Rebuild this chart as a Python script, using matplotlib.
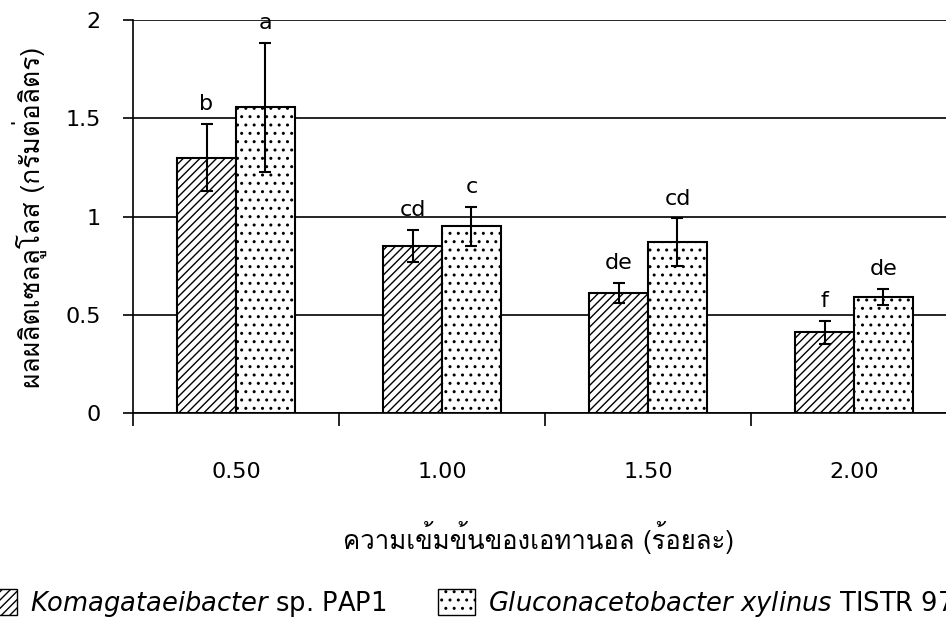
import matplotlib
matplotlib.use("Agg")
import matplotlib.pyplot as plt
from matplotlib import font_manager
from matplotlib.ft2font import FT2Font
from matplotlib.patches import Patch
import numpy as np

# Data: cellulose yield (g/L) by ethanol concentration (%)
categories = ["0.50", "1.00", "1.50", "2.00"]
strain_a_mean = [1.30, 0.85, 0.61, 0.41]
strain_a_err = [0.17, 0.08, 0.05, 0.06]
strain_b_mean = [1.555, 0.95, 0.87, 0.59]
strain_b_err = [0.33, 0.10, 0.12, 0.04]
strain_a_letters = ["b", "cd", "de", "f"]
strain_b_letters = ["a", "c", "cd", "de"]
y_ticks = [0, 0.5, 1, 1.5, 2]
y_tick_labels = ["0", "0.5", "1", "1.5", "2"]
legend_labels = [r"$\it{Komagataeibacter}$ sp. PAP1",
                 r"$\it{Gluconacetobacter\ xylinus}$ TISTR 975"]


def find_thai_font():
    seen = set()
    for f in font_manager.fontManager.ttflist:
        if f.fname in seen:
            continue
        seen.add(f.fname)
        try:
            cmap = FT2Font(f.fname).get_charmap()
        except Exception:
            continue
        if 0x0E01 in cmap and 0x0E40 in cmap:
            return f.name
    return None


thai = find_thai_font()
families = ([thai] if thai else []) + ["DejaVu Sans"]
plt.rcParams["font.family"] = ["DejaVu Sans"] + ([thai] if thai else [])
plt.rcParams["hatch.linewidth"] = 1.0
plt.rcParams["hatch.color"] = "black"

fig = plt.figure(figsize=(9.46, 6.29), dpi=100)
ax = fig.add_axes([0.1406, 0.3434, 0.8710, 0.6248])

x = np.arange(len(categories))
w = 0.286
ax.bar(x - w / 2, strain_a_mean, w, color="white", edgecolor="black",
       linewidth=1.5, hatch="////", zorder=3)
ax.bar(x + w / 2, strain_b_mean, w, color="white", edgecolor="black",
       linewidth=1.5, hatch="..", zorder=3)
ax.errorbar(x - w / 2, strain_a_mean, yerr=strain_a_err, fmt="none",
            ecolor="black", elinewidth=1.5, capsize=4.5, capthick=1.5, zorder=4)
ax.errorbar(x + w / 2, strain_b_mean, yerr=strain_b_err, fmt="none",
            ecolor="black", elinewidth=1.5, capsize=4.5, capthick=1.5, zorder=4)

for xi, m, e, t in zip(x - w / 2, strain_a_mean, strain_a_err, strain_a_letters):
    ax.text(xi, m + e + 0.05, t, ha="center", va="bottom", fontsize=16,
            clip_on=False, zorder=5)
for xi, m, e, t in zip(x + w / 2, strain_b_mean, strain_b_err, strain_b_letters):
    ax.text(xi, m + e + 0.05, t, ha="center", va="bottom", fontsize=16,
            clip_on=False, zorder=5)

ax.set_ylim(0, 2)
ax.set_xlim(-0.5, 3.5)
ax.set_yticks(y_ticks)
ax.set_yticklabels(y_tick_labels)
ax.tick_params(axis="y", length=7.2, width=1.2, pad=16, labelsize=16,
               direction="out")
ax.yaxis.grid(True, color="black", linewidth=1.2)
ax.set_axisbelow(True)

# major ticks mark category boundaries, minor ticks carry the labels
ax.set_xticks(np.arange(-0.5, 3.6, 1.0))
ax.set_xticklabels([])
ax.tick_params(axis="x", which="major", length=9, width=1.2, direction="out")
ax.set_xticks(x, minor=True)
ax.set_xticklabels(categories, minor=True)
ax.tick_params(axis="x", which="minor", length=0, pad=35, labelsize=16)

for s in ["top", "right"]:
    ax.spines[s].set_visible(False)
for s in ["left", "bottom"]:
    ax.spines[s].set_linewidth(1.2)

fig.text(0.031, 0.655, "ผลผลิตเซลลูโลส (กรัมต่อลิตร)", rotation=90,
         ha="center", va="center", fontsize=19, family=families)
fig.text(0.569, 0.146, "ความเข้มข้นของเอทานอล (ร้อยละ)", ha="center",
         va="center", fontsize=18.5, family=families)

# one legend entry per series, each anchored at its swatch's left edge
swatches = [Patch(facecolor="white", edgecolor="black", hatch="////"),
            Patch(facecolor="white", edgecolor="black", hatch="..")]
anchors_x = [-20 / 946, 438 / 946]
for h, lab, ax_x in zip(swatches, legend_labels, anchors_x):
    fig.legend([h], [lab], loc="center left", bbox_to_anchor=(ax_x, 0.040),
               frameon=False, fontsize=18.5, handlelength=1.45,
               handleheight=1.2, handletextpad=0.5, borderaxespad=0,
               borderpad=0)

fig.savefig("out.png", dpi=100)
